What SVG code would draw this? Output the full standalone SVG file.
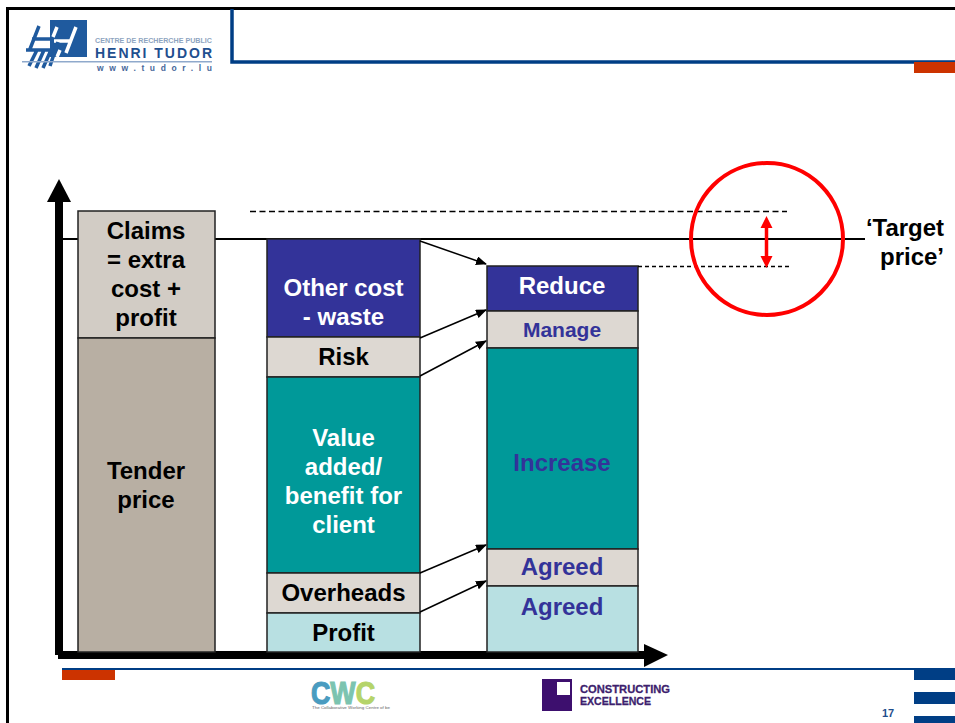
<svg xmlns="http://www.w3.org/2000/svg" width="955" height="723" viewBox="0 0 955 723">
<style>
text{font-family:"Liberation Sans",Arial,sans-serif;font-weight:700;text-anchor:middle}
.s{text-anchor:start}
.l{font-size:24px;fill:#000}
.w{font-size:24px;fill:#fff}
.b{font-size:24px;fill:#333399}
.box{stroke:#222;stroke-width:1.5}
.blue{fill:#333399}.beige{fill:#ddd8d2}.teal{fill:#009999}.lt{fill:#b8e0e2}
.nav{fill:#003e85}.org{fill:#cc3300}
.conn{stroke:#000;stroke-width:1.5;fill:none;marker-end:url(#ah)}
.dash{stroke:#000;stroke-width:1.300;stroke-dasharray:6 3.500;fill:none}
</style>
<defs>
<marker id="ah" markerUnits="userSpaceOnUse" markerWidth="11" markerHeight="9" refX="10" refY="4.500" orient="auto"><path d="M0 0L11 4.500L0 9z" fill="#000"/></marker>
</defs>
<rect width="955" height="723" fill="#fff"/>
<g id="frame">
<path d="M7.500 723V8.500H955" fill="none" stroke="#000" stroke-width="3"/>
<path d="M232 9V62H955" fill="none" stroke="#003e85" stroke-width="3.500"/>
<rect class="org" x="914" y="62" width="41" height="11"/>
<rect class="nav" x="62" y="668" width="893" height="2"/>
<rect class="org" x="62" y="670" width="53" height="10"/>
<rect class="nav" x="914" y="670" width="41" height="10"/>
<rect class="nav" x="914" y="692" width="41" height="12"/>
<rect class="nav" x="914" y="716" width="41" height="7"/>
<text x="888" y="717" style="font-size:11px;fill:#1f4e8c">17</text>
</g>
<g id="logo-tudor">
<rect x="50" y="20" width="37" height="37" fill="#1f5a9e"/>
<g fill="none" stroke="#fff" stroke-width="3.500">
<path d="M54 41H72M76 27L66 53M60 50L57 57M53 37L57 27"/>
</g>
<g fill="none" stroke="#1f5a9e" stroke-width="3.500">
<path d="M39 26L30 49M32 39H50M26 50H50M37 50L29 66M44 50L36 68M51 50L43 68M58 42L50 66"/>
</g>
<text class="s" x="95" y="43" textLength="117" lengthAdjust="spacingAndGlyphs" style="font-size:7.500px;fill:#8ea4c0">CENTRE DE RECHERCHE PUBLIC</text>
<text class="s" x="95" y="58" textLength="117" style="font-size:14px;fill:#1f4f8f">HENRI TUDOR</text>
<rect x="22" y="61" width="190" height="1.500" fill="#8fa9cc"/>
<text class="s" x="97" y="71" textLength="115" style="font-size:8.500px;fill:#47679a">www.tudor.lu</text>
</g>
<g id="axes">
<rect x="55" y="200" width="8" height="455"/>
<rect x="58" y="651" width="590" height="8"/>
<path d="M59 179L71 202H47z"/>
<path d="M668 655L644 667V644z"/>
</g>
<g id="target-line"><path d="M62 239H865" stroke="#000" stroke-width="2"/></g>
<g id="col-claims">
<rect x="78" y="211" width="137" height="127" class="box" fill="#d2ccc5"/>
<rect x="78" y="338" width="137" height="314" class="box" fill="#b8afa3"/>
<text class="l" x="146" y="239">Claims</text>
<text class="l" x="146" y="268">= extra</text>
<text class="l" x="146" y="297">cost +</text>
<text class="l" x="146" y="326">profit</text>
<text class="l" x="146" y="479">Tender</text>
<text class="l" x="146" y="508">price</text>
</g>
<g id="col-cost">
<rect x="267" y="239" width="153" height="98" class="box blue"/>
<rect x="267" y="337" width="153" height="40" class="box beige"/>
<rect x="267" y="377" width="153" height="196" class="box teal"/>
<rect x="267" y="573" width="153" height="40" class="box beige"/>
<rect x="267" y="613" width="153" height="39" class="box lt"/>
<text class="w" x="343.500" y="296">Other cost</text>
<text class="w" x="343.500" y="325">- waste</text>
<text class="l" x="343.500" y="365">Risk</text>
<text class="w" x="343.500" y="446">Value</text>
<text class="w" x="343.500" y="475">added/</text>
<text class="w" x="343.500" y="504">benefit for</text>
<text class="w" x="343.500" y="533">client</text>
<text class="l" x="343.500" y="601">Overheads</text>
<text class="l" x="343.500" y="641">Profit</text>
</g>
<g id="col-target">
<rect x="487" y="266" width="151" height="45" class="box blue"/>
<rect x="487" y="311" width="151" height="37" class="box beige"/>
<rect x="487" y="348" width="151" height="201" class="box teal"/>
<rect x="487" y="549" width="151" height="37" class="box beige"/>
<rect x="487" y="586" width="151" height="66" class="box lt"/>
<text class="w" x="562" y="294">Reduce</text>
<text class="b" x="562" y="337" style="font-size:21px">Manage</text>
<text class="b" x="562" y="471">Increase</text>
<text class="b" x="562" y="575">Agreed</text>
<text class="b" x="562" y="615">Agreed</text>
</g>
<g id="connectors">
<path class="conn" d="M420 241L486 264"/>
<path class="conn" d="M420 338L486 310"/>
<path class="conn" d="M420 376L486 341"/>
<path class="conn" d="M420 573L486 545"/>
<path class="conn" d="M420 612L486 581"/>
<path class="dash" d="M250 211.500H787"/>
<path class="dash" d="M638 266.500H790" style="stroke-dasharray:4 3"/>
</g>
<g id="target-highlight">
<circle cx="767" cy="239" r="76" fill="none" stroke="#f00" stroke-width="4"/>
<path d="M766.500 225V259" stroke="#f00" stroke-width="3.500"/>
<path d="M766.500 216L772.500 228H760.500zM766.500 268L772.500 256H760.500z" fill="#f00"/>
</g>
<g id="target-label">
<text class="l" x="905" y="236">‘Target</text>
<text class="l" x="912" y="265">price’</text>
</g>
<g id="logo-cwc">
<text class="s" x="311" y="704" textLength="64" lengthAdjust="spacingAndGlyphs" style="font-size:32px;stroke-width:1.200"><tspan fill="#4a9cc0" stroke="#4a9cc0">C</tspan><tspan fill="#7cc4b0" stroke="#7cc4b0">W</tspan><tspan fill="#b5d46a" stroke="#b5d46a">C</tspan></text>
<text class="s" x="312" y="709" textLength="78" lengthAdjust="spacingAndGlyphs" style="font-size:4px;font-weight:400;fill:#666">The Collaborative Working Centre of be</text>
</g>
<g id="logo-ce">
<rect x="542" y="679" width="30" height="32" fill="#3d0f6e"/>
<rect x="557" y="682" width="13" height="13" fill="#fff"/>
<text class="s" x="580" y="693" textLength="90" lengthAdjust="spacingAndGlyphs" style="font-size:11.500px;fill:#3d1f6e;stroke:#3d1f6e;stroke-width:.3">CONSTRUCTING</text>
<text class="s" x="580" y="705" textLength="71" lengthAdjust="spacingAndGlyphs" style="font-size:11.500px;fill:#3d1f6e;stroke:#3d1f6e;stroke-width:.3">EXCELLENCE</text>
</g>
</svg>
